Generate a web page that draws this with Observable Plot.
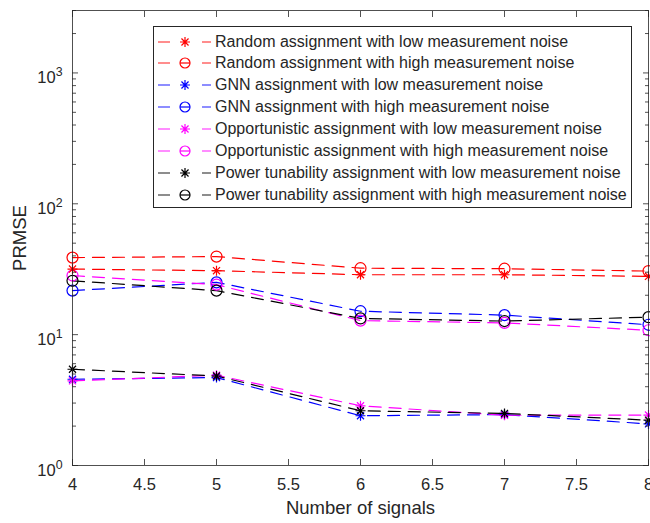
<!DOCTYPE html>
<html>
<head>
<meta charset="utf-8">
<script src="https://cdn.jsdelivr.net/npm/d3@7"></script>
<script src="https://cdn.jsdelivr.net/npm/@observablehq/plot@0.6"></script>
<style>
  html, body { margin: 0; padding: 0; background: #fff; }
  #wrap { position: relative; width: 650px; height: 523px; font-family: "Liberation Sans", Arial, Helvetica, sans-serif; }
  #legend { position: absolute; left: 153px; top: 26px; width: 479px; height: 182px; border: 1px solid #262626; background: #fff; box-sizing: border-box; }
  #legend .row { position: absolute; left: 0; height: 20px; display: flex; align-items: center; }
  #legend .row span { font-size: 16px; color: #262626; white-space: nowrap; margin-left: 3px; }
</style>
</head>
<body>
<div id="wrap"></div>
<script>
// ---- data ----
const signals = [4, 5, 6, 7, 8];
const xTicks = [4, 4.5, 5, 5.5, 6, 6.5, 7, 7.5, 8];
const yMajor = [1, 10, 100, 1000];
const yMinor = [2,3,4,5,6,7,8,9, 20,30,40,50,60,70,80,90, 200,300,400,500,600,700,800,900, 2000, 3000];

const seriesNames = [
  "Random assignment with low measurement noise",
  "Random assignment with high measurement noise",
  "GNN assignment with low measurement noise",
  "GNN assignment with high measurement noise",
  "Opportunistic assignment with low measurement noise",
  "Opportunistic assignment with high measurement noise",
  "Power tunability assignment with low measurement noise",
  "Power tunability assignment with high measurement noise"
];
const seriesColors = ["#ff0000", "#ff0000", "#0000ff", "#0000ff", "#ff00ff", "#ff00ff", "#000000", "#000000"];
const seriesMarkers = ["star", "circle", "star", "circle", "star", "circle", "star", "circle"];

const randomLow  = [31.7, 30.8, 28.7, 28.7, 27.9];
const randomHigh = [38.8, 39.5, 32.2, 31.9, 30.6];
const gnnLow     = [4.56, 4.70, 2.40, 2.45, 2.08];
const gnnHigh    = [21.7, 25.1, 15.1, 14.1, 11.9];
const oppLow     = [4.43, 4.90, 2.86, 2.42, 2.43];
const oppHigh    = [28.3, 24.1, 12.8, 12.3, 10.8];
const powLow     = [5.44, 4.83, 2.62, 2.50, 2.22];
const powHigh    = [25.8, 21.7, 13.3, 12.7, 13.6];
const seriesValues = [randomLow, randomHigh, gnnLow, gnnHigh, oppLow, oppHigh, powLow, powHigh];

const data = seriesValues.flatMap((vals, i) => vals.map((v, j) => ({
  x: signals[j], y: v, s: i, color: seriesColors[i], marker: seriesMarkers[i]
})));

// MATLAB-like '*' marker: plus and times combined
const matStar = {
  draw(ctx, size) {
    const r = Math.sqrt(size / Math.PI);
    const d = r * Math.SQRT1_2;
    ctx.moveTo(-r, 0); ctx.lineTo(r, 0);
    ctx.moveTo(0, -r); ctx.lineTo(0, r);
    ctx.moveTo(-d, -d); ctx.lineTo(d, d);
    ctx.moveTo(-d, d); ctx.lineTo(d, -d);
  }
};

const axisColor = "#262626";
const dash = "12,8";

const chart = Plot.plot({
  width: 650,
  height: 523,
  marginLeft: 72,
  marginRight: 2,
  marginTop: 10,
  marginBottom: 58,
  style: { fontFamily: '"Liberation Sans", Arial, Helvetica, sans-serif', background: "#fff", color: axisColor },
  x: { domain: [4, 8] },
  y: { type: "log", domain: [1, 3000] },
  marks: [
    Plot.line(data, { x: "x", y: "y", z: "s", stroke: "color", strokeWidth: 1.2, strokeDasharray: dash }),
    Plot.dot(data.filter(d => d.marker === "circle"), { x: "x", y: "y", stroke: "color", r: 5.5, strokeWidth: 1.2, fill: "none" }),
    Plot.dot(data.filter(d => d.marker === "star"), { x: "x", y: "y", stroke: "color", r: 5, strokeWidth: 1.2, symbol: matStar, fill: "none" }),
    Plot.frame({ stroke: axisColor, strokeWidth: 0.8 }),
    // x axis bottom: labels
    Plot.axisX({ anchor: "bottom", ticks: xTicks, tickSize: 0, tickPadding: 13, fontSize: 16.5, tickFormat: d => String(d),
      label: "Number of signals", labelAnchor: "center", labelOffset: 48, labelArrow: "none", color: axisColor }),
    // inward ticks
    Plot.axisX({ anchor: "bottom", ticks: xTicks, tickSize: -6, tickFormat: () => "", label: null, stroke: axisColor, strokeWidth: 0.8 }),
    Plot.axisX({ anchor: "top", ticks: xTicks, tickSize: -6, tickFormat: () => "", label: null, stroke: axisColor, strokeWidth: 0.8 }),
    Plot.axisY({ anchor: "left", ticks: yMajor, tickSize: 0, tickPadding: 10, fontSize: 16.5, tickFormat: d => "10^" + Math.round(Math.log10(d)),
      label: "PRMSE", labelAnchor: "center", labelOffset: 60, labelArrow: "none", color: axisColor }),
    Plot.axisY({ anchor: "left", ticks: yMajor, tickSize: -6, tickFormat: () => "", label: null, stroke: axisColor, strokeWidth: 0.8 }),
    Plot.axisY({ anchor: "left", ticks: yMinor, tickSize: -4, tickFormat: () => "", label: null, stroke: axisColor, strokeWidth: 0.8 }),
    Plot.axisY({ anchor: "right", ticks: yMajor, tickSize: -6, tickFormat: () => "", label: null, stroke: axisColor, strokeWidth: 0.8 }),
    Plot.axisY({ anchor: "right", ticks: yMinor, tickSize: -4, tickFormat: () => "", label: null, stroke: axisColor, strokeWidth: 0.8 })
  ]
});

document.getElementById("wrap").appendChild(chart);

// superscript formatting of y tick labels
d3.select(chart).selectAll("text").each(function() {
  const t = this.textContent;
  const m = /^10\^(\d+)$/.exec(t);
  if (m) {
    const sel = d3.select(this);
    sel.text(null);
    sel.append("tspan").attr("dy", "0.3em").text("10");
    sel.append("tspan").attr("dy", "-0.55em").attr("font-size", "0.75em").text(m[1]);
  }
});
d3.select(chart).selectAll("text").filter(function() { return this.textContent === "PRMSE" || this.textContent === "Number of signals"; })
  .attr("font-size", 18.5);

// legend
const legend = document.createElement("div");
legend.id = "legend";
seriesNames.forEach((name, i) => {
  const row = document.createElement("div");
  row.className = "row";
  row.style.top = (4.5 + i * 21.9) + "px";
  const ns = "http://www.w3.org/2000/svg";
  const svg = document.createElementNS(ns, "svg");
  svg.setAttribute("width", 58); svg.setAttribute("height", 20);
  const c = seriesColors[i];
  const l1 = document.createElementNS(ns, "line");
  l1.setAttribute("x1", 4); l1.setAttribute("x2", 16); l1.setAttribute("y1", 10); l1.setAttribute("y2", 10);
  l1.setAttribute("stroke", c); l1.setAttribute("stroke-width", 1.2); l1.setAttribute("stroke-opacity", 0.75);
  const l2 = document.createElementNS(ns, "line");
  l2.setAttribute("x1", 48); l2.setAttribute("x2", 57); l2.setAttribute("y1", 10); l2.setAttribute("y2", 10);
  l2.setAttribute("stroke", c); l2.setAttribute("stroke-width", 1.2); l2.setAttribute("stroke-opacity", 0.75);
  svg.appendChild(l1); svg.appendChild(l2);
  if (seriesMarkers[i] === "circle") {
    const circ = document.createElementNS(ns, "circle");
    circ.setAttribute("cx", 31); circ.setAttribute("cy", 10); circ.setAttribute("r", 5);
    circ.setAttribute("fill", "none"); circ.setAttribute("stroke", c); circ.setAttribute("stroke-width", 1.2);
    const hl = document.createElementNS(ns, "line");
    hl.setAttribute("x1", 26); hl.setAttribute("x2", 36); hl.setAttribute("y1", 10); hl.setAttribute("y2", 10);
    hl.setAttribute("stroke", c); hl.setAttribute("stroke-width", 1.2);
    svg.appendChild(circ); svg.appendChild(hl);
  } else {
    const p = document.createElementNS(ns, "path");
    const r = 5, dd = r * Math.SQRT1_2;
    p.setAttribute("d", `M${31-r},10H${31+r}M31,${10-r}V${10+r}M${31-dd},${10-dd}L${31+dd},${10+dd}M${31-dd},${10+dd}L${31+dd},${10-dd}`);
    p.setAttribute("stroke", c); p.setAttribute("stroke-width", 1.2); p.setAttribute("fill", "none");
    svg.appendChild(p);
  }
  row.appendChild(svg);
  const span = document.createElement("span");
  span.textContent = name;
  row.appendChild(span);
  legend.appendChild(row);
});
document.getElementById("wrap").appendChild(legend);
</script>
</body>
</html>
